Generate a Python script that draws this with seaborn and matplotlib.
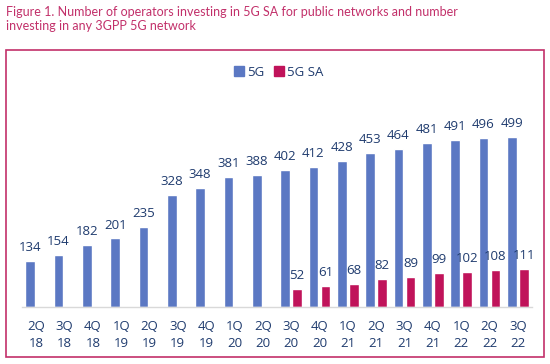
import matplotlib
matplotlib.use("Agg")
import matplotlib.pyplot as plt
from matplotlib.lines import Line2D
from matplotlib.patches import Rectangle
import seaborn as sns
import pandas as pd
import numpy as np

categories = ["2Q\n18", "3Q\n18", "4Q\n18", "1Q\n19", "2Q\n19", "3Q\n19", "4Q\n19",
              "1Q\n20", "2Q\n20", "3Q\n20", "4Q\n20", "1Q\n21", "2Q\n21", "3Q\n21",
              "4Q\n21", "1Q\n22", "2Q\n22", "3Q\n22"]
values_5g = [134, 154, 182, 201, 235, 328, 348, 381, 388, 402, 412, 428, 453, 464,
             481, 491, 496, 499]
values_sa = [None, None, None, None, None, None, None, None, None, 52, 61, 68, 82, 89,
             99, 102, 108, 111]
series = ["5G", "5G SA"]
title = ("Figure 1. Number of operators investing in 5G SA for public networks and number\n"
         "investing in any 3GPP 5G network")

BLUE = "#5B78C3"
RED = "#C0135A"
NAVY = "#1F3B6E"
PINK = "#C2306A"

rows = []
for c, v in zip(categories, values_5g):
    rows.append({"cat": c, "series": "5G", "value": v})
for c, v in zip(categories, values_sa):
    if v is not None:
        rows.append({"cat": c, "series": "5G SA", "value": v})
df = pd.DataFrame(rows)

sns.set_theme(style="white")
plt.rcParams["font.family"] = ["Open Sans", "DejaVu Sans"]

fig = plt.figure(figsize=(5.5, 3.64), dpi=100)
ax = fig.add_axes([22 / 550, 57 / 364, 510 / 550, 227 / 364])

sns.barplot(data=df, x="cat", y="value", hue="series", order=categories,
            hue_order=series, palette=[BLUE, RED], width=0.85, gap=0.2,
            ax=ax, legend=False, saturation=1)

for cont in ax.containers:
    ax.bar_label(cont, fmt="%d", padding=5, color=NAVY, fontsize=9.5)

ax.set_xlim(-0.5, len(categories) - 0.5)
ax.set_ylim(0, 666)
ax.set_xlabel("")
ax.set_ylabel("")
ax.set_yticks([])
for s in ["top", "right", "left"]:
    ax.spines[s].set_visible(False)
ax.spines["bottom"].set_color("#D9D9D9")
ax.spines["bottom"].set_linewidth(1.0)
ax.tick_params(axis="x", length=0, pad=9, labelsize=9.5, labelcolor=NAVY)
for t in ax.get_xticklabels():
    t.set_linespacing(1.45)

handles = [Line2D([], [], marker="s", linestyle="none", markersize=6.5,
                  markerfacecolor=BLUE, markeredgecolor=BLUE),
           Line2D([], [], marker="s", linestyle="none", markersize=6.5,
                  markerfacecolor=RED, markeredgecolor=RED)]
leg = fig.legend(handles, series, loc="center", bbox_to_anchor=(278 / 550, 1 - 72 / 364),
                 ncol=2, frameon=False, fontsize=9.5, handletextpad=0.1,
                 columnspacing=0.6, handlelength=1.0, borderaxespad=0)
for t in leg.get_texts():
    t.set_color(NAVY)

fig.patches.append(Rectangle((5.5 / 550, 1 - 357 / 364), 538.5 / 550, 307.5 / 364,
                             transform=fig.transFigure, fill=False,
                             edgecolor=PINK, linewidth=1.2))

fig.text(6 / 550, 1 - 6 / 364, title, ha="left", va="top", color=PINK,
         fontsize=9.0, linespacing=1.25, family=["Lato", "DejaVu Sans"])

fig.savefig("out.png", dpi=100)
